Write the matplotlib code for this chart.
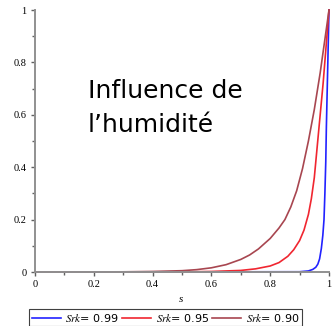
import matplotlib
matplotlib.use('Agg')
import matplotlib.pyplot as plt
from matplotlib.ticker import MultipleLocator

# Courbes relevées pour trois valeurs de Srk
s_099 = [0, 0.9, 0.93, 0.945, 0.955, 0.962, 0.968, 0.974, 0.979, 0.983,
         0.986, 0.989, 0.991, 0.994, 0.997, 1.0]
y_099 = [0, 0.001, 0.004, 0.01, 0.018, 0.03, 0.05, 0.09, 0.14, 0.2,
         0.3, 0.42, 0.55, 0.7, 0.85, 1.0]

s_095 = [0, 0.5, 0.6, 0.7, 0.75, 0.8, 0.83, 0.86, 0.88, 0.9, 0.915, 0.93,
         0.94, 0.95, 0.96, 0.97, 0.98, 0.99, 1.0]
y_095 = [0, 0.0005, 0.002, 0.006, 0.012, 0.023, 0.036, 0.06, 0.085, 0.12,
         0.16, 0.22, 0.28, 0.36, 0.48, 0.6, 0.72, 0.86, 1.0]

s_090 = [0, 0.3, 0.4, 0.5, 0.55, 0.6, 0.65, 0.7, 0.73, 0.76, 0.8, 0.83,
         0.85, 0.87, 0.89, 0.91, 0.93, 0.95, 0.97, 0.985, 1.0]
y_090 = [0, 0.0007, 0.002, 0.005, 0.009, 0.016, 0.028, 0.048, 0.065, 0.088,
         0.128, 0.168, 0.2, 0.248, 0.31, 0.395, 0.5, 0.62, 0.76, 0.88, 1.0]

labels = ['0.99', '0.95', '0.90']
colors = ['#2222ff', '#f02630', '#a84650']
xticks = [0, 0.2, 0.4, 0.6, 0.8, 1]
xticklabels = ['0', '0.2', '0.4', '0.6', '0.8', '1']

plt.rcParams['mathtext.fontset'] = 'stix'

W, H = 336, 326
fig = plt.figure(figsize=(W / 100, H / 100), dpi=100)
ax = fig.add_axes([35 / W, 1 - 272 / H, 294 / W, 262 / H])

for s, y, lab, c in zip([s_099, s_095, s_090], [y_099, y_095, y_090],
                        labels, colors):
    ax.plot(s, y, color=c, lw=1.2, clip_on=False,
            label=r'$\mathit{Srk}$= ' + lab)

ax.set_xlim(0, 1)
ax.set_ylim(0, 1)
for side in ['top', 'right']:
    ax.spines[side].set_visible(False)
for side in ['left', 'bottom']:
    ax.spines[side].set_color('#909090')
    ax.spines[side].set_linewidth(1.4)

ax.set_xticks(xticks)
ax.set_xticklabels(xticklabels)
ax.set_yticks(xticks)
ax.set_yticklabels(xticklabels)
ax.xaxis.set_minor_locator(MultipleLocator(0.1))
ax.yaxis.set_minor_locator(MultipleLocator(0.1))
ax.tick_params(which='major', direction='out', length=3, width=1,
               color='#606060', labelsize=7.5, pad=3)
ax.tick_params(which='minor', direction='out', length=2, width=1,
               color='#606060')
for t in ax.get_xticklabels() + ax.get_yticklabels():
    t.set_family('Liberation Serif')

fig.text(181 / W, 1 - 300 / H, 's', family='Liberation Serif',
         style='italic', fontsize=8, ha='center', va='center')

leg = ax.legend(loc='center', bbox_to_anchor=(165.5 / W, 1 - 317.5 / H),
                bbox_transform=fig.transFigure, ncol=3, fontsize=8,
                handlelength=2.6, handletextpad=0.4, columnspacing=0.3,
                borderpad=0.25, fancybox=False, framealpha=1,
                borderaxespad=0)
leg.get_frame().set_edgecolor('#404040')
leg.get_frame().set_linewidth(0.8)

# Titre dans la zone du graphe
fig.text(88 / W, 1 - 98 / H, 'Influence de', family='DejaVu Sans',
         fontsize=18, va='baseline', ha='left')
fig.text(88 / W, 1 - 132 / H, 'l’humidité', family='DejaVu Sans',
         fontsize=18, va='baseline', ha='left')

fig.savefig('out.png', dpi=100)
